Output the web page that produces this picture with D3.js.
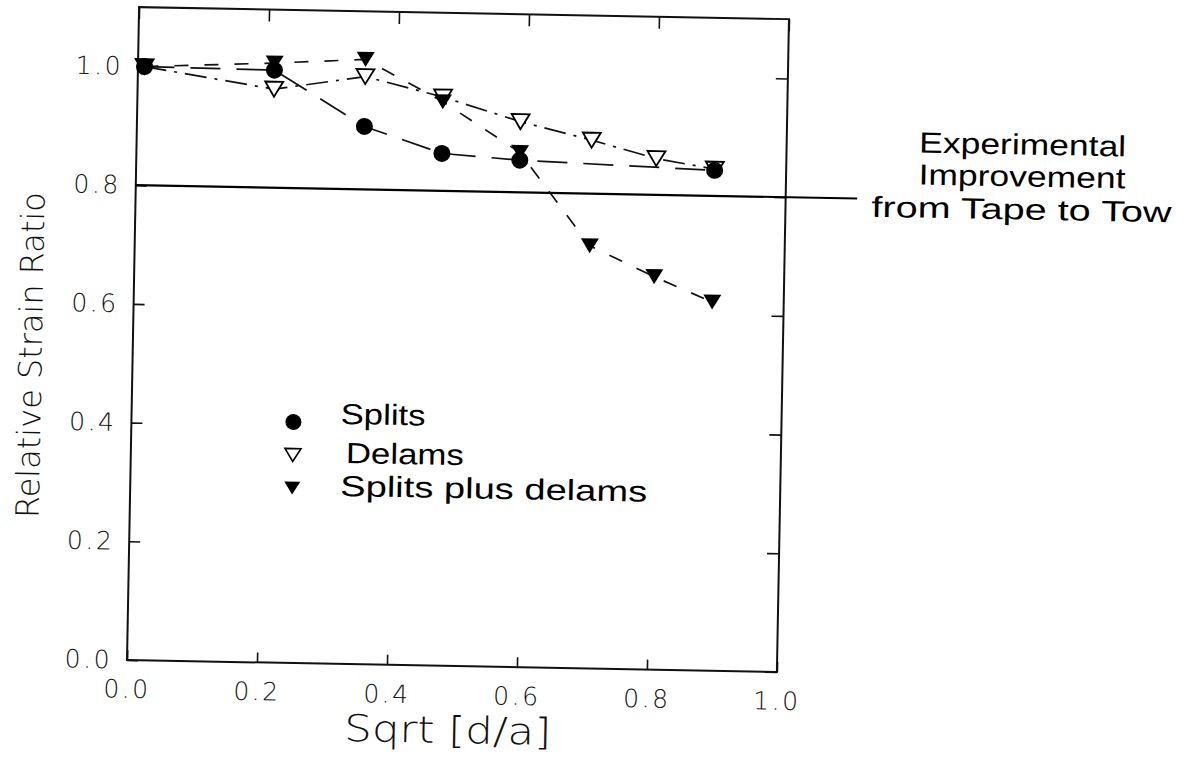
<!DOCTYPE html>
<html>
<head>
<meta charset="utf-8">
<script src="https://cdn.jsdelivr.net/npm/d3@7"></script>
<style>
  body { margin: 0; background: #fff; }
  .tick text { font-family: "DejaVu Sans", sans-serif; font-weight: 200; font-size: 25px; fill: #111; }
  .lab { font-family: "Liberation Sans", Arial, sans-serif; fill: #000; }
</style>
</head>
<body>
<svg id="chart" width="1196" height="762"></svg>
<script>
'use strict';

// values
var sqrtDA = [0.01, 0.21, 0.35, 0.47, 0.59, 0.70, 0.80, 0.89];
var splits = [1.0, 0.998, 0.906, 0.863, 0.854, null, null, 0.843];
var delams = [1.0, 0.966, 0.990, 0.958, 0.919, 0.890, 0.861, 0.845];
var splitsPlusDelams = [1.0, 1.010, 1.019, 0.950, 0.867, 0.712, 0.662, 0.621];
var xTicks = [0, 0.2, 0.4, 0.6, 0.8, 1.0];
var yTicks = [0, 0.2, 0.4, 0.6, 0.8, 1.0];
var tapeToTow = 0.8;
var noteLines = ['Experimental', 'Improvement', 'from  Tape  to  Tow'];
var legendNames = ['Splits', 'Delams', 'Splits  plus  delams'];

var W = 650, H = 653;
var svg = d3.select('#chart');
// the scan is tilted by about a degree, so the whole figure is too
var g = svg.append('g')
    .attr('transform', 'rotate(1.06,127,660) translate(127,7)');

var x = d3.scaleLinear().domain([0, 1]).range([0, W]);
var y = d3.scaleLinear().domain([0, 1.1]).range([H, 0]);

// axes, ticks pointing inward
g.append('g').attr('transform', 'translate(0,' + H + ')')
    .call(d3.axisBottom(x).tickValues(xTicks).tickSizeInner(-10).tickSizeOuter(0)
        .tickPadding(20).tickFormat(d3.format('.1f')));
g.append('g')
    .call(d3.axisLeft(y).tickValues(yTicks).tickSizeInner(-11).tickSizeOuter(0)
        .tickPadding(15).tickFormat(d3.format('.1f')));
g.append('g')
    .call(d3.axisTop(x).tickValues(xTicks).tickSizeInner(-12).tickSizeOuter(0).tickFormat(''));
g.append('g').attr('transform', 'translate(' + W + ',0)')
    .call(d3.axisRight(y).tickValues(yTicks).tickSizeInner(-12).tickSizeOuter(0).tickFormat(''));
g.selectAll('.domain').remove();
g.selectAll('.tick line').attr('stroke', '#111').attr('stroke-width', 1.6);
g.selectAll('.tick text').attr('letter-spacing', 2.5);

g.append('rect')
    .attr('width', W).attr('height', H)
    .attr('fill', 'none').attr('stroke', '#111').attr('stroke-width', 2);

// tape-to-tow reference line, runs past the frame
g.append('line')
    .attr('x1', x(0)).attr('x2', x(1.11))
    .attr('y1', y(tapeToTow)).attr('y2', y(tapeToTow))
    .attr('stroke', '#000').attr('stroke-width', 2.2);

var noteY = [131, 163, 196];
g.selectAll('.note').data(noteLines).enter().append('text')
    .attr('class', 'lab')
    .attr('x', 886).attr('y', function(d, i) { return noteY[i]; })
    .attr('text-anchor', 'middle')
    .attr('font-size', 29)
    .attr('textLength', function(d, i) { return i === 2 ? 300 : 207; })
    .attr('lengthAdjust', 'spacingAndGlyphs')
    .text(function(d) { return d; });

// series lines
var splitsPts = sqrtDA.map(function(v, i) { return [v, splits[i]]; })
    .filter(function(p) { return p[1] !== null; });
var line = d3.line().x(function(p) { return x(p[0]); }).y(function(p) { return y(p[1]); });
function pts(vals) {
    return sqrtDA.map(function(v, i) { return [v, vals[i]]; });
}

g.append('path')
    .attr('d', line(splitsPts))
    .attr('fill', 'none').attr('stroke', '#111').attr('stroke-width', 1.7)
    .attr('stroke-dasharray', '30,16');
g.append('path')
    .attr('d', line(pts(delams)))
    .attr('fill', 'none').attr('stroke', '#111').attr('stroke-width', 1.7)
    .attr('stroke-dasharray', '22,8,3,8');
g.append('path')
    .attr('d', line(pts(splitsPlusDelams)))
    .attr('fill', 'none').attr('stroke', '#111').attr('stroke-width', 1.7)
    .attr('stroke-dasharray', '14,16');

var triDown = 'M-9,-7.5L9,-7.5L0,7.5Z';
var triSmall = 'M-8,-6.5L8,-6.5L0,6.5Z';

g.selectAll('.delam').data(pts(delams)).enter().append('path')
    .attr('d', triDown)
    .attr('transform', function(p) { return 'translate(' + x(p[0]) + ',' + y(p[1]) + ')'; })
    .attr('fill', '#fff').attr('stroke', '#000').attr('stroke-width', 1.8);
g.selectAll('.both').data(pts(splitsPlusDelams)).enter().append('path')
    .attr('d', triDown)
    .attr('transform', function(p) { return 'translate(' + x(p[0]) + ',' + y(p[1]) + ')'; })
    .attr('fill', '#000');
g.selectAll('.split').data(splitsPts).enter().append('circle')
    .attr('cx', function(p) { return x(p[0]); })
    .attr('cy', function(p) { return y(p[1]); })
    .attr('r', 8.5)
    .attr('fill', '#000');

// legend
var leg = g.append('g').attr('transform', 'translate(162,412)');
leg.append('circle').attr('r', 8).attr('fill', '#000');
leg.append('path').attr('d', triSmall).attr('transform', 'translate(0,33)')
    .attr('fill', '#fff').attr('stroke', '#000').attr('stroke-width', 1.6);
leg.append('path').attr('d', triSmall).attr('transform', 'translate(0,66)').attr('fill', '#000');
var legX = [47, 53, 48];
var legY = [1, 40, 73];
var legW = [85, 118, 307];
leg.selectAll('.lt').data(legendNames).enter().append('text')
    .attr('class', 'lab')
    .attr('x', function(d, i) { return legX[i]; })
    .attr('y', function(d, i) { return legY[i]; })
    .attr('font-size', 29)
    .attr('textLength', function(d, i) { return legW[i]; })
    .attr('lengthAdjust', 'spacingAndGlyphs')
    .text(function(d) { return d; });

// axis titles
g.append('text')
    .attr('x', 322).attr('y', 730)
    .attr('text-anchor', 'middle')
    .style('font-family', '"DejaVu Sans", sans-serif').style('font-weight', 200)
    .attr('font-size', 37).attr('fill', '#111')
    .attr('textLength', 207).attr('lengthAdjust', 'spacingAndGlyphs')
    .text('Sqrt [d/a]');
g.append('text')
    .attr('transform', 'translate(-91,350) rotate(-90)')
    .attr('text-anchor', 'middle')
    .style('font-family', '"DejaVu Sans", sans-serif').style('font-weight', 200)
    .attr('font-size', 32).attr('fill', '#111')
    .attr('textLength', 326).attr('lengthAdjust', 'spacingAndGlyphs')
    .text('Relative Strain Ratio');
</script>
</body>
</html>
